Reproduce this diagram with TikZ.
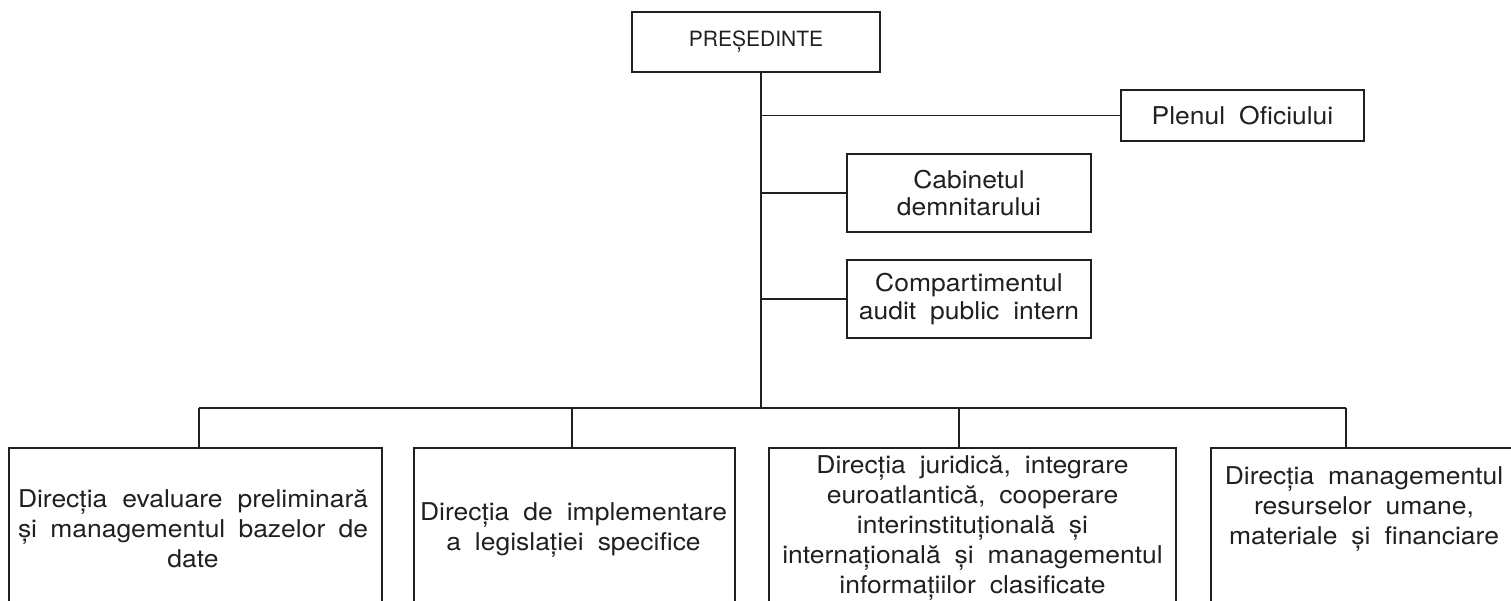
\documentclass[tikz,border=0pt]{standalone}
\usepackage{fontspec}
\setmainfont[FakeStretch=1.08,WordSpace=1.9]{TeX Gyre Heros}
\newfontfamily\presfont{TeX Gyre Heros}
\definecolor{ink}{RGB}{35,31,32}
\begin{document}
\begin{tikzpicture}[x=1pt,y=-1pt,
  box/.style={draw=ink,line width=1.9pt,inner sep=0pt},
  lab/.style={text=ink,align=center,inner sep=0pt,font=\fontsize{24.5}{30}\selectfont},
  side/.style={box,text=ink,align=center,font=\fontsize{24.5}{27.5}\selectfont},
  wire/.style={draw=ink,line width=1.9pt}]
\useasboundingbox (0,0) rectangle (1511,601);
\fill[white] (0,0) rectangle (1511,601);

% top
\node[box,text=ink,minimum width=248pt,minimum height=60pt,font=\presfont\fontsize{21}{25}\selectfont] (pres) at (756,42) {PREȘEDINTE};
\coordinate (ptop) at ([xshift=5pt]pres.south);
\coordinate (bus) at (761,408);

% side boxes
\node[side,minimum width=243pt,minimum height=51pt] (plen) at (1242.5,115.5) {Plenul Oficiului};
\node[side,minimum width=244pt,minimum height=78pt] (cab) at (969,193) {Cabinetul\\demnitarului};
\node[side,minimum width=244pt,minimum height=78pt] (comp) at (969,299) {Compartimentul\\audit public intern};

% bottom boxes
\node[box,anchor=north west,minimum width=373pt,minimum height=200pt] (d1) at (8,447) {};
\node[box,anchor=north west,minimum width=321pt,minimum height=200pt] (d2) at (413,447) {};
\node[box,anchor=north west,minimum width=407pt,minimum height=200pt] (d3) at (768,447) {};
\node[box,anchor=north west,minimum width=340pt,minimum height=200pt] (d4) at (1210,447) {};

\node[lab] (t1) at (193,529) {\makebox[350pt][s]{Direcția evaluare preliminară}\\\makebox[350pt][s]{și managementul bazelor de}\\date};
\node[lab] (t2) at (573.5,530.5) {Direcția de implementare\\a legislației specifice};
\node[lab] (t3) at (972.5,528) {Direcția juridică, integrare\\euroatlantică, cooperare\\interinstituțională și\\internațională și managementul\\informațiilor clasificate};
\node[lab] (t4) at (1364,509) {Direcția managementul\\resurselor umane,\\materiale și financiare};

% connectors
\coordinate (b1) at (199,408);
\coordinate (b2) at (572,408);
\coordinate (b3) at (959,408);
\coordinate (b4) at (1346,408);
\draw[wire] (ptop) -- (bus);
\draw[wire] (ptop |- plen.west) -- (plen.west);
\draw[wire] (ptop |- cab.west) -- (cab.west);
\draw[wire] (ptop |- comp.west) -- (comp.west);
\draw[wire] (b1) -- (b4);
\draw[wire] (b1) -- (b1 |- d1.north);
\draw[wire] (b2) -- (b2 |- d2.north);
\draw[wire] (b3) -- (b3 |- d3.north);
\draw[wire] (b4) -- (b4 |- d4.north);
\end{tikzpicture}
\end{document}
